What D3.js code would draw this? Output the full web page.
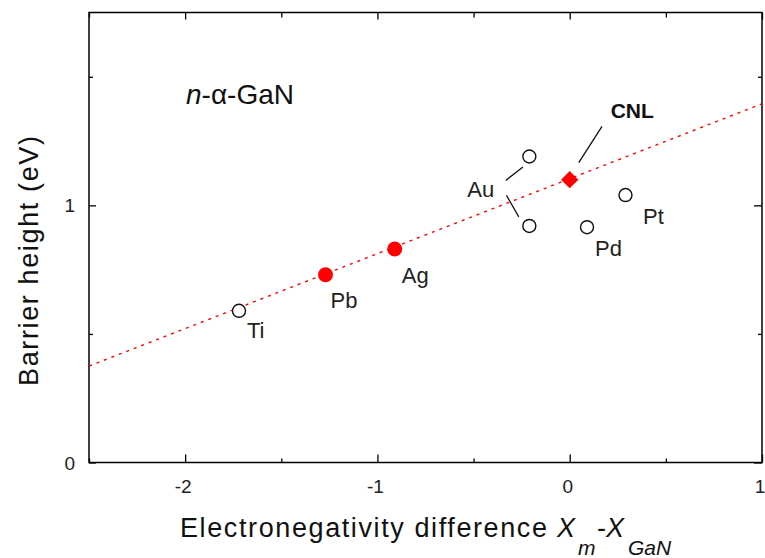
<!DOCTYPE html>
<html>
<head>
<meta charset="utf-8">
<script src="https://cdn.jsdelivr.net/npm/d3@7"></script>
<style>
  body { margin: 0; background: #fff; }
  svg { display: block; font-family: "Liberation Sans", Arial, sans-serif; }
</style>
</head>
<body>
<svg id="chart" width="765" height="558"></svg>
<script>
// metals, open symbols
var openNames = ["Ti", "Au", "Au", "Pd", "Pt"];
var openX = [-1.72, -0.21, -0.21, 0.09, 0.29];
var openY = [0.59, 1.19, 0.92, 0.915, 1.04];

// metals, filled symbols
var fillNames = ["Pb", "Ag"];
var fillX = [-1.27, -0.91];
var fillY = [0.73, 0.83];

// charge neutrality level
var cnlX = [0];
var cnlY = [1.10];

// dotted fit line
var lineX = [-2.5, 1];
var lineY = [0.375, 1.395];

// leader lines (data coords: x1, y1, x2, y2)
var leaders = [
  [-0.333, 1.097, -0.243, 1.149],
  [-0.329, 1.039, -0.265, 0.955],
  [0.047, 1.166, 0.168, 1.307]
];

var xMajor = [-2, -1, 0, 1];
var xMinor = [-2.5, -1.5, -0.5, 0.5];
var yMajor = [0, 1];
var yMinor = [0.5, 1.5];

var svg = d3.select("#chart");
var pL = 89, pR = 762, pT = 12.5, pB = 462.5;

var x = d3.scaleLinear().domain([-2.5, 1]).range([pL, pR]);
var y = d3.scaleLinear().domain([0, 1.75]).range([pB, pT]);

// ticks, all pointing inward
var g;
g = svg.append("g").attr("transform", "translate(0," + pB + ")")
  .call(d3.axisTop(x).tickValues(xMajor).tickSize(8).tickFormat(""));
g.append("g").call(d3.axisTop(x).tickValues(xMinor).tickSize(4).tickFormat(""));
g = svg.append("g").attr("transform", "translate(0," + pT + ")")
  .call(d3.axisBottom(x).tickValues(xMajor).tickSize(7).tickFormat(""));
g.append("g").call(d3.axisBottom(x).tickValues(xMinor).tickSize(5).tickFormat(""));
g = svg.append("g").attr("transform", "translate(" + pL + ",0)")
  .call(d3.axisRight(y).tickValues(yMajor).tickSize(7).tickFormat(""));
g.append("g").call(d3.axisRight(y).tickValues(yMinor).tickSize(4).tickFormat(""));
g = svg.append("g").attr("transform", "translate(" + pR + ",0)")
  .call(d3.axisLeft(y).tickValues(yMajor).tickSize(8).tickFormat(""));
g.append("g").call(d3.axisLeft(y).tickValues(yMinor).tickSize(4).tickFormat(""));

svg.selectAll(".domain").remove();
svg.selectAll(".tick line").attr("stroke", "#000").attr("stroke-width", 1.3);

// frame
svg.append("rect")
  .attr("x", pL).attr("y", pT)
  .attr("width", pR - pL).attr("height", pB - pT)
  .attr("fill", "none").attr("stroke", "#000").attr("stroke-width", 1.5);

// tick labels
svg.selectAll(".xl").data(xMajor).enter().append("text")
  .attr("x", function(d){ return x(d) - 2; })
  .attr("y", 493)
  .attr("text-anchor", "middle")
  .attr("font-size", 19)
  .attr("fill", "#222")
  .text(function(d){ return d; });

svg.selectAll(".yl").data(yMajor).enter().append("text")
  .attr("x", 75)
  .attr("y", function(d){ return y(d) + 7; })
  .attr("text-anchor", "end")
  .attr("font-size", 19)
  .attr("fill", "#222")
  .text(function(d){ return d; });

// fit line
svg.append("line")
  .attr("x1", x(lineX[0])).attr("y1", y(lineY[0]))
  .attr("x2", x(lineX[1])).attr("y2", y(lineY[1]))
  .attr("stroke", "#ff0000").attr("stroke-width", 1.4)
  .attr("stroke-dasharray", "3,5");

// leaders
svg.selectAll(".lead").data(leaders).enter().append("line")
  .attr("x1", function(d){ return x(d[0]); })
  .attr("y1", function(d){ return y(d[1]); })
  .attr("x2", function(d){ return x(d[2]); })
  .attr("y2", function(d){ return y(d[3]); })
  .attr("stroke", "#111").attr("stroke-width", 1.3);

// open circles
svg.selectAll(".open").data(openX).enter().append("circle")
  .attr("cx", function(d){ return x(d); })
  .attr("cy", function(d, i){ return y(openY[i]); })
  .attr("r", 6.5)
  .attr("fill", "#fff").attr("stroke", "#111").attr("stroke-width", 1.4);

// filled circles
svg.selectAll(".fill").data(fillX).enter().append("circle")
  .attr("cx", function(d){ return x(d); })
  .attr("cy", function(d, i){ return y(fillY[i]); })
  .attr("r", 7.5)
  .attr("fill", "#ff0000");

// CNL diamond
svg.selectAll(".cnl").data(cnlX).enter().append("path")
  .attr("d", d3.symbol().type(d3.symbolSquare).size(150))
  .attr("transform", function(d, i){
    return "translate(" + x(d) + "," + y(cnlY[i]) + ") rotate(45)";
  })
  .attr("fill", "#ff0000");

// point labels (pixel offsets from the point)
var openOff = [[8, 27], [-62, 40], null, [8, 29], [17.5, 29]];
openNames.forEach(function(n, i){
  if (!openOff[i]) return;
  svg.append("text")
    .attr("x", x(openX[i]) + openOff[i][0])
    .attr("y", y(openY[i]) + openOff[i][1])
    .attr("font-size", 22).attr("fill", "#222")
    .text(n);
});
var fillOff = [[5, 33], [7, 34]];
fillNames.forEach(function(n, i){
  svg.append("text")
    .attr("x", x(fillX[i]) + fillOff[i][0])
    .attr("y", y(fillY[i]) + fillOff[i][1])
    .attr("font-size", 22).attr("fill", "#222")
    .text(n);
});
svg.append("text")
  .attr("x", x(cnlX[0]) + 41).attr("y", y(cnlY[0]) - 62)
  .attr("font-size", 21).attr("font-weight", "bold").attr("fill", "#111")
  .text("CNL");

// panel title
var t = svg.append("text").attr("x", 186).attr("y", 104)
  .attr("font-size", 28).attr("fill", "#111");
t.append("tspan").attr("font-style", "italic").text("n");
t.append("tspan").text("-α-GaN");

// axis titles
svg.append("text")
  .attr("transform", "translate(38,261) rotate(-90)")
  .attr("text-anchor", "middle")
  .attr("font-size", 27).attr("fill", "#111")
  .attr("textLength", 250).attr("lengthAdjust", "spacing")
  .text("Barrier height (eV)");

svg.append("text").attr("x", 180).attr("y", 537)
  .attr("font-size", 27).attr("fill", "#111")
  .attr("textLength", 367).attr("lengthAdjust", "spacing")
  .text("Electronegativity difference");
var xt = svg.append("text").attr("y", 537).attr("font-size", 27).attr("fill", "#111");
xt.append("tspan").attr("x", 557).attr("font-style", "italic").text("X");
xt.append("tspan").attr("x", 578).attr("y", 555).attr("font-size", 21).attr("font-style", "italic").text("m");
xt.append("tspan").attr("x", 597).attr("y", 537).text("-");
xt.append("tspan").attr("font-style", "italic").text("X");
xt.append("tspan").attr("x", 628).attr("y", 555).attr("font-size", 21).attr("font-style", "italic").text("GaN");
</script>
</body>
</html>
